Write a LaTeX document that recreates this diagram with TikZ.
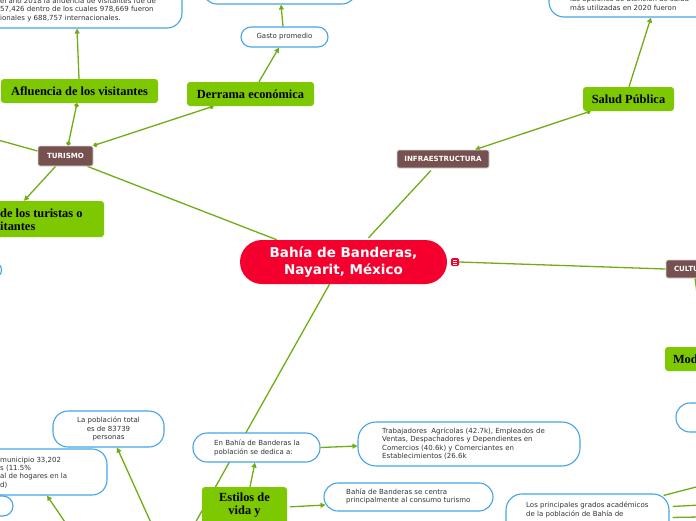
\documentclass[tikz,border=0pt]{standalone}
\usepackage{fontspec}
\setmainfont{DejaVu Sans}
\newfontfamily\gfont{Liberation Serif}
\usetikzlibrary{arrows.meta,calc}
\pgfdeclarelayer{bg}
\pgfsetlayers{bg,main}
\definecolor{blueb}{HTML}{45A4E6}
\definecolor{grn}{HTML}{7DC800}
\definecolor{lnk}{HTML}{70AD14}
\definecolor{brn}{HTML}{775050}
\definecolor{bordc}{HTML}{D6D6D6}
\definecolor{redc}{HTML}{F5002E}
\definecolor{txtc}{HTML}{333333}
\begin{document}
\begin{tikzpicture}[x=1pt,y=-1pt,
  every node/.style={inner sep=0pt},
  pill/.style={draw=blueb,line width=1.1pt,fill=white,rounded corners=#1},
  pill/.default=14pt,
  body/.style={font=\fontsize{7}{8.4}\selectfont,text=txtc},
  gfnt/.style={font=\gfont\bfseries\fontsize{12.4}{13}\selectfont,text=black},
  gbox/.style={fill=grn,rounded corners=3pt,gfnt},
  bbox/.style={fill=brn,draw=bordc,line width=0.8pt,rounded corners=2pt,font=\bfseries\fontsize{7.1}{8}\selectfont,text=white},
  link/.style={draw=lnk,line width=1.3pt},
  arr/.style={link,-{Triangle[length=5pt,width=5pt]}},
  dots/.style={link,{Circle[length=4.5pt]}-{Circle[length=4.5pt]}}
]
\useasboundingbox (0,0) rectangle (696,520);
\clip (0,0) rectangle (696,520);

% central
\node[fill=redc,rounded corners=22pt,minimum width=207pt,minimum height=44pt,text=white,font=\bfseries\fontsize{13.5}{17}\selectfont,align=center] (cen) at (343.5,262) {Bahía de Banderas,\\Nayarit, México};
\node[fill=redc,rounded corners=1.5pt,minimum size=8pt] (icon) at (455,262) {};
\draw[white,line width=0.6pt] ($(icon)+(-2,-2)$) -- ($(icon)+(2,-2)$) ($(icon)+(-2,0)$) -- ($(icon)+(2,0)$) ($(icon)+(-2,2)$) -- ($(icon)+(2,2)$);

% brown topics
\node[bbox,minimum width=55pt,minimum height=20pt] (tur) at (65.5,156) {TURISMO};
\node[bbox,minimum width=92pt,minimum height=18pt] (infra) at (443,159) {INFRAESTRUCTURA};
\node[bbox,minimum height=18pt,text width=48pt,inner xsep=8pt,align=left] (cult) at (698,269) {CULTU};

% green subtopics
\node[gbox,minimum width=157pt,minimum height=24pt] (afl) at (79.5,91) {Afluencia de los visitantes};
\node[gbox,minimum width=127pt,minimum height=24pt] (der) at (250.5,94) {Derrama económica};
\node[gbox,minimum width=91pt,minimum height=24pt] (sal) at (628.5,99) {Salud Pública};
\node[gbox,minimum width=124pt,minimum height=36pt] (proc) at (42,219) {};
\node[gfnt,anchor=west,align=left] (proct) at (0,219.5) {de los turistas o\\itantes};
\node[gbox,minimum height=24pt,text width=59pt,inner xsep=8pt,align=left] (mod) at (702.5,359) {Mod};
\node[gbox,minimum width=85pt,minimum height=63pt] (est) at (244.5,518.5) {};
\node[gfnt,align=center] (estt) at (244.5,505.5) {Estilos de\\vida y};

% blue notes
\node[pill=15pt,minimum width=282pt,minimum height=68pt] (tl) at (41,-6) {};
\node[body,anchor=west,align=left] (tlt) at (0,10) {el año 2018 la afluencia de visitantes fue de\\57,426 dentro de los cuales 978,669 fueron\\ionales y 688,757 internacionales.};
\node[pill,minimum width=153pt,minimum height=44pt] (tm) at (279.5,-18) {};
\node[pill=10pt,body,minimum width=87pt,minimum height=20pt] (gas) at (284.5,37) {Gasto promedio};
\node[pill=15pt,minimum width=251pt,minimum height=57pt] (tr) at (674.5,-11.5) {};
\node[body,anchor=west,align=left] (trt) at (570,3.2) {las opciones de atención de salud\\más utilizadas en 2020 fueron};
\node[pill=8pt,minimum width=61.5pt,minimum height=16pt] (sl) at (-29.25,270) {};
\node[pill=15pt,body,minimum width=111pt,minimum height=36pt,align=center] (pob) at (108.5,429) {La población total\\es de 83739\\personas};
\node[pill=15pt,minimum width=207pt,minimum height=46pt] (mun) at (3.5,472) {};
\node[body,anchor=west,align=left] (munt) at (0,472.5) {municipio 33,202\\s (11.5\%\\al de hogares en la\\d)};
\node[pill=10pt,minimum width=73pt,minimum height=20pt] (sm) at (-23.5,506) {};
\node[pill,minimum width=127pt,minimum height=29pt] (enb) at (256.5,447.5) {};
\node[body,anchor=west,align=left] (enbt) at (214,448) {En Bahía de Banderas la\\población se dedica a:};
\node[pill=18pt,minimum width=222pt,minimum height=44pt] (trab) at (469,444) {};
\node[body,anchor=west,align=left] (trabt) at (382,443.5) {Trabajadores~ Agrícolas (42.7k), Empleados de\\Ventas, Despachadores y Dependientes en\\Comercios (40.6k) y Comerciantes en\\Establecimientos (26.6k};
\node[pill,minimum width=169pt,minimum height=28pt] (cent) at (408.5,497) {};
\node[body,anchor=west,align=left] (centt) at (346,496.5) {Bahía de Banderas se centra\\principalmente al consumo turismo};
\node[pill=16pt,minimum width=163pt,minimum height=51pt] (gra) at (587.5,519.5) {};
\node[body,anchor=west,align=left] (grat) at (526,510) {Los principales grados académicos\\de la población de Bahía de};
\node[pill,minimum width=84pt,minimum height=29pt] (rp) at (718,417.5) {};

% connectors
\begin{pgfonlayer}{bg}
\coordinate (below) at (194,525);
\coordinate (tlf) at (-2,140);
\coordinate (cultb) at (698,300);
\coordinate (pobf) at (152,525);
\coordinate (munf) at (67,525);
\coordinate (g1) at (700,486);
\coordinate (g2) at (700,505);
\coordinate (g3) at (700,517);
\draw[link] ($(tur.south east)+(-6,0)$) -- ($(cen.north west)+(37,0)$);
\draw[link] ($(cen.north)+(25,-2)$) -- ($(infra.south)+(-12,2)$);
\draw[link] (icon.east) -- (cult.west);
\draw[link] ($(cen.south)+(-14,0)$) -- (below);
\draw[dots] ($(tur.north)+(2.5,0)$) -- ($(afl.south)+(-2.5,0)$);
\draw[dots] (tur.north east) -- ($(der.south)+(-37,0)$);
\draw[link] ($(tur.west)+(0,-5)$) -- (tlf);
\draw[arr] ($(tur.south)+(-10,0)$) -- ($(proc.north)+(-18,0)$);
\draw[arr] ($(afl.north)+(-0.5,0)$) -- ($(tl.south)+(36,0)$);
\draw[arr] ($(der.north)+(8.5,0)$) -- ($(gas.south)+(-5.5,0)$);
\draw[arr] ($(gas.north)+(-1.5,0)$) -- ($(tm.south)+(1.5,0)$);
\draw[link,{Triangle[length=5pt,width=5pt]}-{Circle[length=4.5pt]}] ($(infra.north)+(32,0)$) -- ($(sal.south)+(-38,0)$);
\draw[arr] ($(sal.north)+(0.5,0)$) -- ($(tr.south)+(-23.5,0)$);
\draw[link] ($(cult.south)+(-3,0)$) -- (cultb);
\draw[arr] ($(est.north)+(5.5,0)$) -- ($(enb.south)+(-1.5,0)$);
\draw[arr] ($(est.north east)+(3,20)$) -- ($(cent.west)+(2,8)$);
\draw[arr] (enb.east) -- ($(trab.west)+(0,2)$);
\draw[arr] (pobf) -- ($(pob.south)+(8.5,0)$);
\draw[arr] (munf) -- ($(mun.south)+(43.5,0)$);
\draw[link] ($(gra.north east)+(-6,2)$) -- (g1);
\draw[link] ($(gra.north east)+(3,13)$) -- (g2);
\draw[link] ($(gra.north east)+(3,24)$) -- (g3);
\end{pgfonlayer}
\end{tikzpicture}
\end{document}
